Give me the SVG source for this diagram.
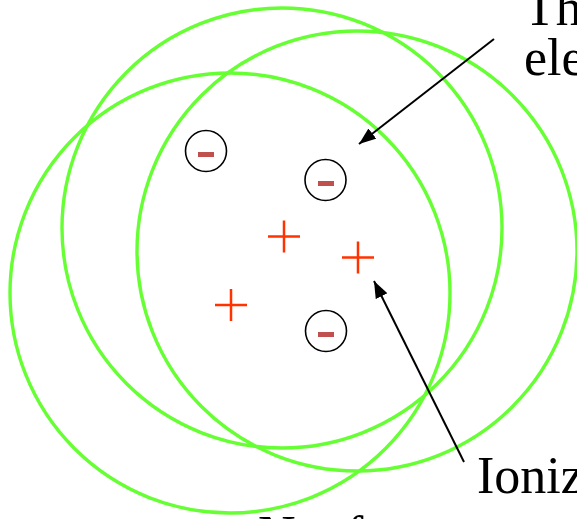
<svg xmlns="http://www.w3.org/2000/svg" width="577" height="519" viewBox="0 0 577 519">
  <defs>
    <style>
      .ring { fill: none; stroke: #66ff33; stroke-width: 3.4; }
      .elec { fill: #ffffff; stroke: #000000; stroke-width: 1.6; }
      .bar { fill: #c0504d; }
      .ion { stroke: #ff3300; stroke-width: 2.5; fill: none; }
      .conn { stroke: #000000; stroke-width: 2; fill: none; marker-end: url(#ah); }
      .lbl { font-family: "Liberation Serif", "Times New Roman", serif; font-size: 52px; fill: #000000; }
    </style>
    <marker id="ah" markerUnits="userSpaceOnUse" markerWidth="18" markerHeight="14" refX="17" refY="6.5" orient="auto">
      <path d="M0,0 L17,6.5 L0,13 z" fill="#000000"/>
    </marker>
  </defs>
  <rect width="577" height="519" fill="#ffffff"/>
  <g id="rings">
    <circle id="ring-top" class="ring" cx="282" cy="228" r="220"/>
    <circle id="ring-left" class="ring" cx="230" cy="293" r="220"/>
    <circle id="ring-right" class="ring" cx="357" cy="251" r="220"/>
  </g>
  <g id="electron-1">
    <circle class="elec" cx="206" cy="151" r="20.5"/>
    <rect class="bar" x="198" y="152" width="16" height="5"/>
  </g>
  <g id="electron-2">
    <circle class="elec" cx="325.5" cy="180" r="20.5"/>
    <rect class="bar" x="318" y="181" width="16" height="5"/>
  </g>
  <g id="electron-3">
    <circle class="elec" cx="326" cy="331" r="20.5"/>
    <rect class="bar" x="318" y="332" width="16" height="5"/>
  </g>
  <g id="ion-1">
    <path class="ion" d="M268,236.5 H300 M284,220.5 V252.5"/>
  </g>
  <g id="ion-2">
    <path class="ion" d="M342,257.5 H374 M358,241.5 V273.5"/>
  </g>
  <g id="ion-3">
    <path class="ion" d="M215,305 H247 M231,289 V321"/>
  </g>
  <g id="connectors">
    <line class="conn" x1="494" y1="39" x2="359" y2="144"/>
    <line class="conn" x1="464" y1="462" x2="374" y2="281"/>
  </g>
  <g id="label-electrons">
    <text class="lbl" x="524" y="25">Th</text>
    <text class="lbl" x="524" y="75">ele</text>
  </g>
  <g id="label-ions">
    <text class="lbl" x="477" y="493">Ioniz</text>
  </g>
  <g id="label-bottom">
    <text class="lbl" x="258" y="552">Net f</text>
  </g>
</svg>
